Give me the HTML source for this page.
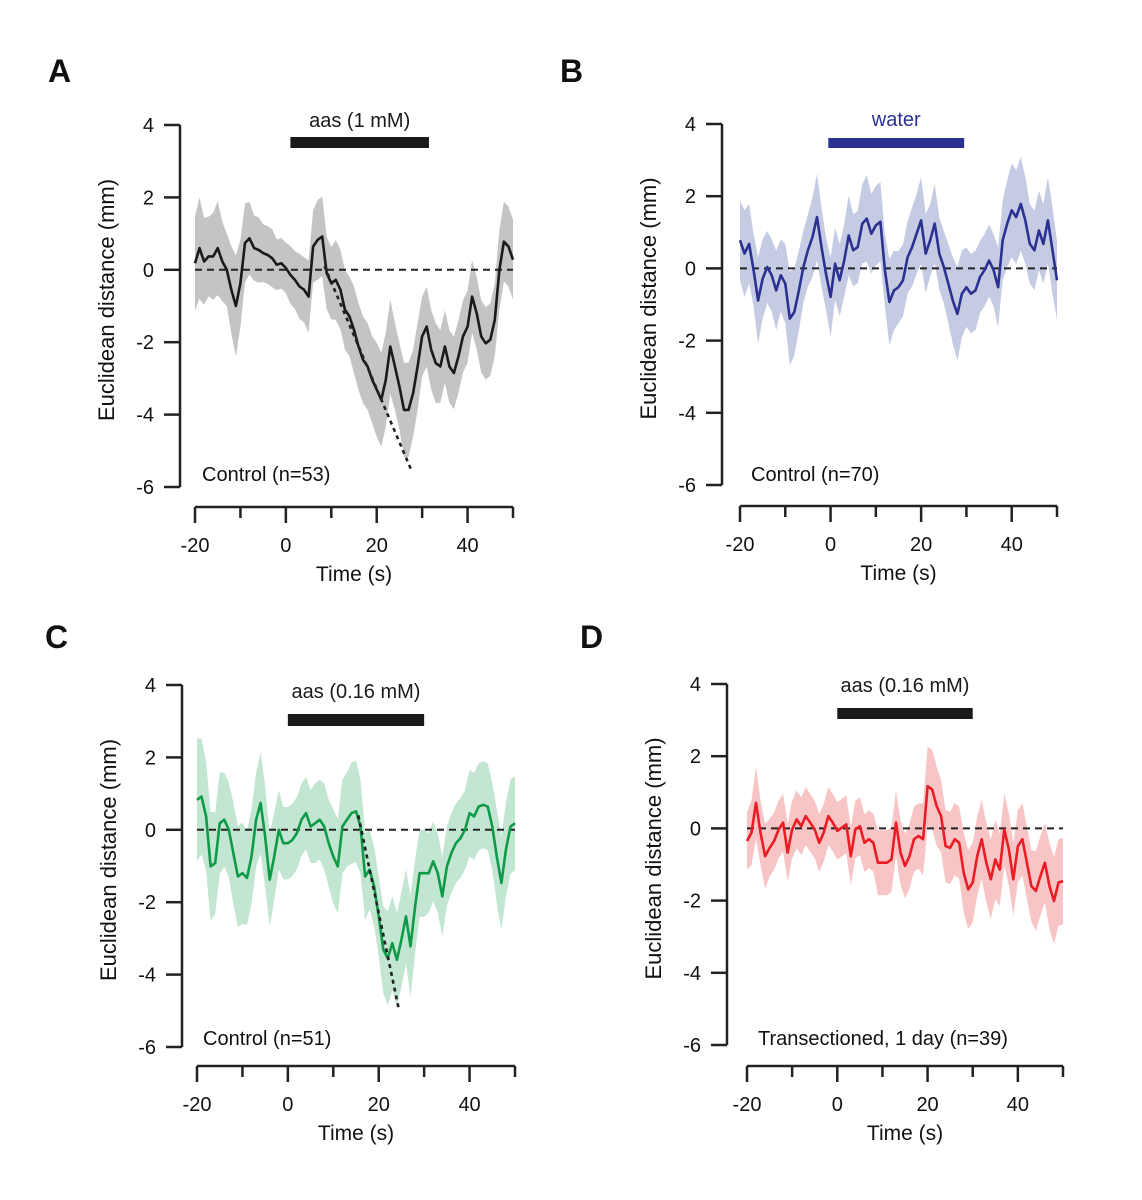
<!DOCTYPE html>
<html><head><meta charset="utf-8">
<style>
html,body{margin:0;padding:0;background:#fff;}
svg{display:block;font-family:"Liberation Sans",Arial,sans-serif;}
</style></head>
<body>
<svg id="chart" width="1142" height="1200" viewBox="0 0 1142 1200" xmlns="http://www.w3.org/2000/svg"></svg>
<script>
// ---- data (time -20..50 s, 1 s steps) ----
const timeStart = -20;
const xTicks = [-20, -10, 0, 10, 20, 30, 40, 50];
const xTickLabels = ["-20", "", "0", "", "20", "", "40", ""];
const yTicks = [4, 2, 0, -2, -4, -6];
const yTickLabels = ["4", "2", "0", "-2", "-4", "-6"];

const meanA = [0.18,0.6,0.23,0.37,0.37,0.6,0.23,0,-0.55,-1.0,-0.37,0.74,0.87,0.6,0.55,0.46,0.41,0.32,0.14,0.18,0.05,-0.14,-0.28,-0.46,-0.55,-0.74,0.64,0.83,0.92,-0.09,-0.37,-0.28,-0.55,-1.1,-1.29,-1.66,-2.12,-2.49,-2.67,-3.04,-3.31,-3.59,-3.04,-2.12,-2.67,-3.22,-3.87,-3.87,-3.41,-2.67,-1.84,-1.57,-2.21,-2.58,-2.67,-2.12,-2.67,-2.85,-2.39,-1.84,-1.57,-0.74,-1.2,-1.84,-2.03,-1.93,-1.38,0,0.78,0.64,0.28];
const semA = [1.3,1.4,1.2,1.1,1.2,1.3,1.1,1.0,1.2,1.4,1.2,1.1,1.0,0.9,0.9,0.8,0.8,0.8,0.7,0.7,0.7,0.8,0.8,0.9,0.9,1.0,1.0,1.1,1.1,1.0,1.0,1.1,1.1,1.1,1.1,1.2,1.2,1.2,1.2,1.2,1.3,1.3,1.3,1.3,1.2,1.2,1.3,1.3,1.2,1.2,1.1,1.1,1.1,1.1,1.0,1.0,1.0,1.0,1.0,1.0,1.0,1.0,1.0,1.0,1.0,1.0,1.0,1.1,1.1,1.1,1.1];
const meanB = [0.78,0.41,0.68,-0.05,-0.89,-0.29,0.04,-0.19,-0.61,-0.19,-0.42,-1.39,-1.21,-0.61,0.04,0.5,0.87,1.42,0.59,-0.15,-0.79,0.13,-0.33,0.22,0.91,0.5,0.59,1.24,1.38,0.96,1.19,1.29,-0.05,-0.93,-0.61,-0.52,-0.33,0.31,0.59,0.96,1.33,0.41,0.78,1.24,0.41,0.04,-0.42,-0.89,-1.26,-0.7,-0.52,-0.7,-0.61,-0.24,-0.05,0.22,-0.05,-0.52,0.78,1.24,1.61,1.42,1.79,1.33,0.68,0.5,1.05,0.68,1.33,0.5,-0.33];
const semB = [1.1,1.2,1.1,1.0,1.2,1.1,1.0,1.0,1.1,1.0,1.1,1.3,1.2,1.1,1.0,1.0,1.1,1.2,1.1,1.0,1.1,1.0,1.0,1.0,1.1,1.0,1.0,1.1,1.2,1.1,1.1,1.1,1.0,1.2,1.1,1.0,1.0,1.0,1.1,1.1,1.2,1.1,1.0,1.1,1.0,1.0,1.1,1.2,1.3,1.2,1.1,1.1,1.1,1.0,1.0,1.0,1.0,1.1,1.1,1.2,1.3,1.3,1.3,1.2,1.1,1.1,1.1,1.1,1.2,1.2,1.1];
const meanC = [0.83,0.92,0.37,-1.01,-0.92,0.18,0.28,0,-0.64,-1.29,-1.2,-1.33,-0.74,0.28,0.74,-0.18,-1.38,-0.74,0,-0.37,-0.37,-0.28,-0.09,0.28,0.46,0.09,0.18,0.28,0.09,-0.37,-0.74,-1.01,0.09,0.28,0.46,0.51,0.09,-1.29,-1.1,-1.57,-2.39,-3.31,-3.55,-3.13,-3.59,-3.04,-2.39,-3.22,-2.12,-1.2,-1.2,-1.2,-0.87,-1.2,-1.84,-1.01,-0.64,-0.37,-0.23,0,0.46,0.37,0.64,0.69,0.64,0.09,-0.74,-1.47,-0.55,0.09,0.18];
const semC = [1.7,1.6,1.5,1.5,1.4,1.4,1.3,1.3,1.4,1.4,1.4,1.3,1.3,1.3,1.4,1.4,1.3,1.2,1.1,1.0,1.0,1.0,1.0,1.0,1.0,1.0,1.1,1.1,1.2,1.2,1.3,1.3,1.3,1.3,1.4,1.4,1.3,1.2,1.1,1.1,1.1,1.2,1.3,1.3,1.3,1.3,1.3,1.4,1.3,1.2,1.2,1.1,1.1,1.1,1.1,1.1,1.1,1.1,1.1,1.1,1.2,1.2,1.2,1.2,1.2,1.2,1.3,1.3,1.3,1.3,1.3];
const meanD = [-0.35,-0.12,0.71,-0.12,-0.77,-0.54,-0.35,-0.03,0.16,-0.67,-0.03,0.25,0.06,0.34,0.16,-0.03,-0.4,-0.12,0.34,0.16,-0.07,0.02,0.11,-0.77,-0.03,0.06,-0.4,-0.3,-0.4,-0.95,-0.95,-0.95,-0.86,0.16,-0.67,-1.04,-0.77,-0.3,-0.21,-0.3,1.17,1.08,0.62,0.34,-0.49,-0.54,-0.3,-0.4,-1.23,-1.69,-1.5,-0.77,-0.3,-0.95,-1.41,-0.86,-1.14,-0.03,-0.58,-1.41,-0.49,-0.3,-0.95,-1.6,-1.73,-1.32,-0.95,-1.6,-2.01,-1.5,-1.46];
const semD = [0.8,0.9,1.0,0.9,0.9,0.8,0.8,0.8,0.8,0.8,0.8,0.8,0.8,0.8,0.8,0.8,0.8,0.8,0.8,0.8,0.8,0.8,0.8,0.8,0.8,0.8,0.8,0.8,0.8,0.9,0.9,0.9,0.9,0.9,0.9,0.9,0.9,0.9,0.9,1.0,1.1,1.1,1.1,1.0,1.0,1.0,1.0,1.0,1.1,1.1,1.1,1.1,1.1,1.1,1.1,1.1,1.0,1.0,1.0,1.0,1.0,1.0,1.0,1.0,1.1,1.1,1.1,1.2,1.2,1.2,1.2];
const fitA = [[8.5, 0.1], [27.5, -5.5]];
const fitC = [[15.5, 0.4], [24.5, -5.0]];
const barA = [1, 31.5];
const barB = [-0.5, 29.5];
const barC = [0, 30];
const barD = [0, 30];

const NS = "http://www.w3.org/2000/svg";
const svg = document.getElementById("chart");
function mk(tag, attrs, parent) {
  const e = document.createElementNS(NS, tag);
  for (const k in attrs) e.setAttribute(k, attrs[k]);
  (parent || svg).appendChild(e);
  return e;
}

const panels = [
  {id:"a", letter:"A", lx:48, ly:82, yAxisX:180, yTop:125, yBot:487, x0:195, x1:513, xAxisY:507,
   mean:meanA, sem:semA, line:"#1a1a1a", fill:"#c4c4c4", bar:barA, barY:137, barH:11, barColor:"#1a1a1a",
   barLabel:"aas (1 mM)", barLabelColor:"#1a1a1a", barLabelY:127, note:"Control (n=53)", noteX:202, noteY:481, fit:fitA},
  {id:"b", letter:"B", lx:560, ly:82, yAxisX:722, yTop:124, yBot:485, x0:740, x1:1057, xAxisY:506,
   mean:meanB, sem:semB, line:"#2b3190", fill:"#c6cbe4", bar:barB, barY:138, barH:10, barColor:"#2b3190",
   barLabel:"water", barLabelColor:"#2b3190", barLabelY:126, note:"Control (n=70)", noteX:751, noteY:481, fit:null},
  {id:"c", letter:"C", lx:45, ly:648, yAxisX:182, yTop:685, yBot:1047, x0:197, x1:515, xAxisY:1066,
   mean:meanC, sem:semC, line:"#0f9a48", fill:"#c2e6d2", bar:barC, barY:714, barH:12, barColor:"#1a1a1a",
   barLabel:"aas (0.16 mM)", barLabelColor:"#1a1a1a", barLabelY:698, note:"Control (n=51)", noteX:203, noteY:1045, fit:fitC},
  {id:"d", letter:"D", lx:580, ly:648, yAxisX:727, yTop:684, yBot:1045, x0:747, x1:1063, xAxisY:1066,
   mean:meanD, sem:semD, line:"#ec1c24", fill:"#f8c5c6", bar:barD, barY:708, barH:11, barColor:"#1a1a1a",
   barLabel:"aas (0.16 mM)", barLabelColor:"#1a1a1a", barLabelY:692, note:"Transectioned, 1 day (n=39)", noteX:758, noteY:1045, fit:null}
];

panels.forEach(p => {
  const g = mk("g", {});
  
  
  const ys = v => p.yBot + (v - (-6)) * (p.yTop - p.yBot) / 10;
  const xs = t => p.x0 + (t - (-20)) * (p.x1 - p.x0) / 70;

  const lt = mk("text", {x:p.lx, y:p.ly, "font-size":32, "font-weight":"bold", fill:"#111"}, g);
  lt.textContent = p.letter;
  
  

  let up = [], dn = [];
  p.mean.forEach((m, i) => { const t = timeStart + i; up.push(xs(t).toFixed(1) + "," + ys(m + p.sem[i]).toFixed(1)); });
  for (let i = p.mean.length - 1; i >= 0; i--) { const t = timeStart + i; dn.push(xs(t).toFixed(1) + "," + ys(p.mean[i] - p.sem[i]).toFixed(1)); }
  const band = mk("polygon", {points: up.concat(dn).join(" "), fill:p.fill, stroke:"none"}, g);
  
  

  const zl = mk("line", {x1:xs(-20), x2:xs(50), y1:ys(0), y2:ys(0), stroke:"#222", "stroke-width":2, "stroke-dasharray":"7,5"}, g);
  
  

  const pts = p.mean.map((m, i) => xs(timeStart + i).toFixed(1) + "," + ys(m).toFixed(1)).join(" ");
  const ml = mk("polyline", {points:pts, fill:"none", stroke:p.line, "stroke-width":2.6, "stroke-linejoin":"round"}, g);
  
  

  if (p.fit) {
    const fl = mk("line", {x1:xs(p.fit[0][0]), y1:ys(p.fit[0][1]), x2:xs(p.fit[1][0]), y2:ys(p.fit[1][1]), stroke:"#222", "stroke-width":2.6, "stroke-dasharray":"4,4"}, g);
    
    
  }

  const br = mk("rect", {x:xs(p.bar[0]), y:p.barY, width:xs(p.bar[1]) - xs(p.bar[0]), height:p.barH, fill:p.barColor}, g);
  
  
  const bl = mk("text", {x:(xs(p.bar[0]) + xs(p.bar[1])) / 2, y:p.barLabelY, "font-size":20, "text-anchor":"middle", fill:p.barLabelColor}, g);
  bl.textContent = p.barLabel;
  
  

  const nt = mk("text", {x:p.noteX, y:p.noteY, "font-size":20, fill:"#111"}, g);
  nt.textContent = p.note;
  
  

  const ya = mk("line", {x1:p.yAxisX, x2:p.yAxisX, y1:p.yTop, y2:p.yBot, stroke:"#222", "stroke-width":2.5}, g);
  
  
  yTicks.forEach((v, i) => {
    const tk = mk("line", {x1:p.yAxisX - 16, x2:p.yAxisX, y1:ys(v), y2:ys(v), stroke:"#222", "stroke-width":2.5}, g);
    
    
    const tl = mk("text", {x:p.yAxisX - 26, y:ys(v) + 7, "font-size":20, "text-anchor":"end", fill:"#111"}, g);
    tl.textContent = yTickLabels[i];
    
    
  });
  const cy = (p.yTop + p.yBot) / 2 - 6;
  const yt = mk("text", {x:0, y:0, "font-size":22, "text-anchor":"middle", fill:"#111", transform:"translate(" + (p.yAxisX - 66) + "," + cy + ") rotate(-90)"}, g);
  yt.textContent = "Euclidean distance (mm)";
  
  

  const xa = mk("line", {x1:p.x0, x2:p.x1, y1:p.xAxisY, y2:p.xAxisY, stroke:"#222", "stroke-width":2.5}, g);
  
  
  xTicks.forEach((t, i) => {
    const tk = mk("line", {x1:xs(t), x2:xs(t), y1:p.xAxisY, y2:p.xAxisY + (xTickLabels[i] ? 16 : 11), stroke:"#222", "stroke-width":2.5}, g);
    
    
    if (xTickLabels[i]) {
      const tl = mk("text", {x:xs(t), y:p.xAxisY + 45, "font-size":20, "text-anchor":"middle", fill:"#111"}, g);
      tl.textContent = xTickLabels[i];
      
      
    }
  });
  const xt = mk("text", {x:(p.x0 + p.x1) / 2, y:p.xAxisY + 74, "font-size":21, "text-anchor":"middle", fill:"#111"}, g);
  xt.textContent = "Time (s)";
  
  
});
</script>
</body></html>
